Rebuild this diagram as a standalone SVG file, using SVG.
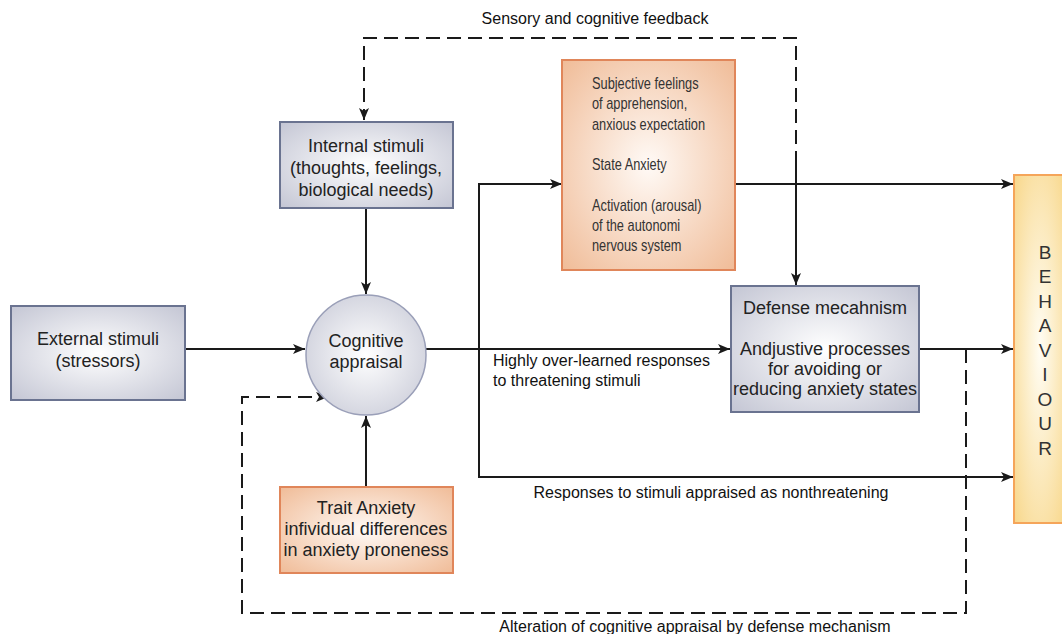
<svg xmlns="http://www.w3.org/2000/svg" width="1062" height="634" viewBox="0 0 1062 634">
<defs>
<radialGradient id="gGrey" cx="50%" cy="50%" r="70%">
<stop offset="0" stop-color="#ffffff"/><stop offset="1" stop-color="#c4c6d4"/>
</radialGradient>
<radialGradient id="gOrange" cx="50%" cy="50%" r="70%">
<stop offset="0" stop-color="#fffaf6"/><stop offset="1" stop-color="#f0bc98"/>
</radialGradient>
<radialGradient id="gYellow" cx="50%" cy="50%" r="70%">
<stop offset="0" stop-color="#fffdf4"/><stop offset="1" stop-color="#f8d78a"/>
</radialGradient>
<marker id="arr" viewBox="0 0 12 10" refX="12" refY="5" markerWidth="12" markerHeight="10" markerUnits="userSpaceOnUse" orient="auto">
<path d="M0,0 L12,5 L0,10 L3,5 Z" fill="#1a1a1a"/>
</marker>
<style>
.grey{fill:url(#gGrey);stroke:#6a7390;stroke-width:2}
.orange{fill:url(#gOrange);stroke:#e0865a;stroke-width:2}
.yellow{fill:url(#gYellow);stroke:#f5a55a;stroke-width:2}
.t{font-family:"Liberation Sans",Arial,sans-serif;font-size:18px;fill:#222;text-anchor:middle}
.n{font-family:"Liberation Sans",Arial,sans-serif;font-size:16px;fill:#333}
.l{font-family:"Liberation Sans",Arial,sans-serif;font-size:16px;fill:#111}
.line{fill:none;stroke:#1a1a1a;stroke-width:2}
.dash{fill:none;stroke:#1a1a1a;stroke-width:2;stroke-dasharray:14,7}
.b{font-family:"Liberation Sans",Arial,sans-serif;font-size:19px;fill:#333;text-anchor:middle}
</style>
</defs>
<rect width="1062" height="634" fill="#ffffff"/>

<g id="connectors">
<path class="dash" d="M796,165 L796,38 L364,38 L364,120" marker-end="url(#arr)"/>
<path class="line" d="M796,165 L796,285" marker-end="url(#arr)"/>
<path class="line" d="M185,349 L305,349" marker-end="url(#arr)"/>
<path class="line" d="M366,208 L366,294" marker-end="url(#arr)"/>
<path class="line" d="M366,487 L366,416" marker-end="url(#arr)"/>
<path class="line" d="M426,349 L730,349" marker-end="url(#arr)"/>
<path class="line" d="M561,184 L479,184 L479,477 L1013,477" marker-end="url(#arr)"/>
<path class="line" d="M561,184 L562,184" marker-end="url(#arr)"/>
<path class="line" d="M735,184 L1013,184" marker-end="url(#arr)"/>
<path class="line" d="M919,349 L1013,349" marker-end="url(#arr)"/>
<path class="dash" d="M966,349 L966,613 L242,613 L242,397 L328,397" marker-end="url(#arr)"/>
<text class="l" x="595" y="24" text-anchor="middle">Sensory and cognitive feedback</text>
<text class="l" x="493" y="366">Highly over-learned responses</text>
<text class="l" x="493" y="386">to threatening stimuli</text>
<text class="l" x="711" y="498" text-anchor="middle">Responses to stimuli appraised as nonthreatening</text>
<text class="l" x="695" y="632" text-anchor="middle">Alteration of cognitive appraisal by defense mechanism</text>
</g>

<g id="external">
<rect class="grey" x="11" y="306" width="174" height="94"/>
<text class="t" x="98" y="345">External stimuli</text>
<text class="t" x="98" y="367">(stressors)</text>
</g>

<g id="internal">
<rect class="grey" x="280" y="122" width="173" height="86"/>
<text class="t" x="366" y="152">Internal stimuli</text>
<text class="t" x="366" y="174">(thoughts, feelings,</text>
<text class="t" x="366" y="196">biological needs)</text>
</g>

<g id="appraisal">
<circle cx="366" cy="355" r="60" fill="url(#gGrey)" stroke="#9a9fb8" stroke-width="1.5"/>
<text class="t" x="366" y="347">Cognitive</text>
<text class="t" x="366" y="368">appraisal</text>
</g>

<g id="state">
<rect class="orange" x="562" y="60" width="173" height="210"/>
<g transform="translate(592,0) scale(0.8,1)">
<text class="n" x="0" y="89">Subjective feelings</text>
<text class="n" x="0" y="109">of apprehension,</text>
<text class="n" x="0" y="130">anxious expectation</text>
<text class="n" x="0" y="170">State Anxiety</text>
<text class="n" x="0" y="211">Activation (arousal)</text>
<text class="n" x="0" y="231">of the autonomi</text>
<text class="n" x="0" y="251">nervous system</text>
</g>
</g>

<g id="defense">
<rect class="grey" x="731" y="286" width="188" height="126"/>
<text class="t" x="825" y="314">Defense mecahnism</text>
<text class="t" x="825" y="355">Andjustive processes</text>
<text class="t" x="825" y="375">for avoiding or</text>
<text class="t" x="825" y="395">reducing anxiety states</text>
</g>

<g id="trait">
<rect class="orange" x="280" y="487" width="173" height="86"/>
<text class="t" x="366" y="514">Trait Anxiety</text>
<text class="t" x="366" y="535">infividual differences</text>
<text class="t" x="366" y="556">in anxiety proneness</text>
</g>

<g id="behaviour">
<rect class="yellow" x="1014" y="175" width="52" height="348"/>
<text class="b" x="1045" y="259">B</text>
<text class="b" x="1045" y="283">E</text>
<text class="b" x="1045" y="308">H</text>
<text class="b" x="1045" y="332">A</text>
<text class="b" x="1045" y="357">V</text>
<text class="b" x="1045" y="381">I</text>
<text class="b" x="1045" y="406">O</text>
<text class="b" x="1045" y="430">U</text>
<text class="b" x="1045" y="455">R</text>
</g>
</svg>
